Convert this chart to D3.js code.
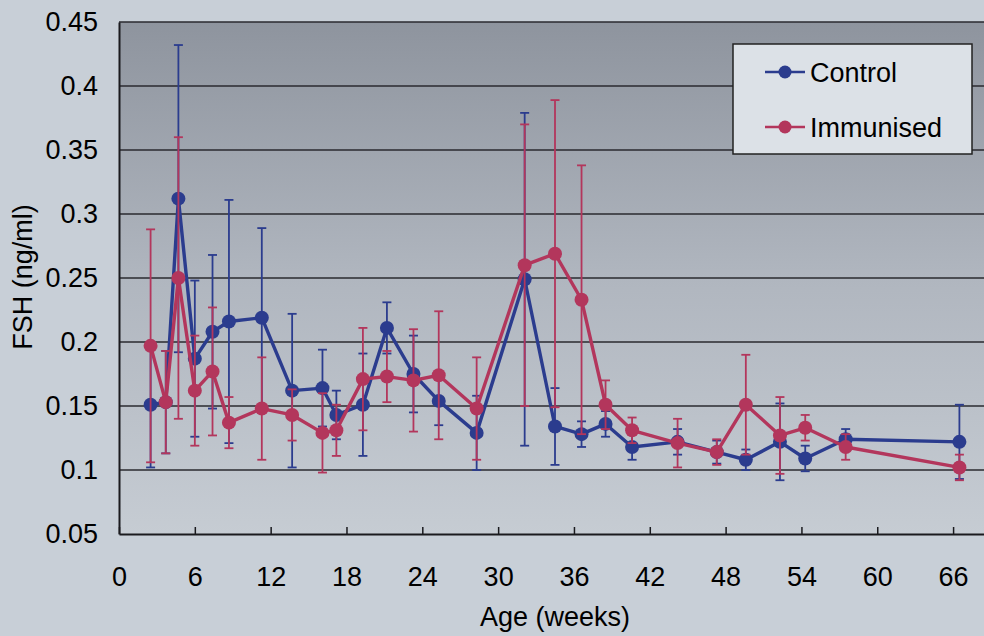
<!DOCTYPE html>
<html lang="en">
<head>
<meta charset="utf-8">
<title>FSH by age</title>
<script src="https://cdn.jsdelivr.net/npm/d3@7"></script>
<style>
  body { margin: 0; background: #c8cfd7; }
  text { font-family: "Liberation Sans", Arial, sans-serif; fill: #000; }
</style>
</head>
<body>
<svg id="chart" width="984" height="636"></svg>
<script>
// ages (weeks) where samples were taken
var ages = [2.5, 3.7, 4.7, 6.0, 7.4, 8.7, 11.3, 13.7, 16.1, 17.2, 19.3, 21.2, 23.3, 25.3,
            28.3, 32.1, 34.5, 36.6, 38.5, 40.6, 44.2, 47.3, 49.6, 52.3, 54.3, 57.5, 66.5];

var control = [0.151, 0.153, 0.312, 0.187, 0.208, 0.216, 0.219, 0.162, 0.164, 0.143, 0.151, 0.211, 0.175, 0.154,
               0.129, 0.249, 0.134, 0.128, 0.136, 0.118, 0.122, 0.114, 0.108, 0.122, 0.109, 0.124, 0.122];
var controlErr = [0.049, 0.04, 0.12, 0.061, 0.06, 0.095, 0.07, 0.06, 0.03, 0.019, 0.04, 0.02, 0.03, 0.019,
                  0.029, 0.13, 0.03, 0.01, 0.01, 0.01, 0.01, 0.009, 0.008, 0.03, 0.01, 0.008, 0.029];

var immunised = [0.197, 0.153, 0.25, 0.162, 0.177, 0.137, 0.148, 0.143, 0.129, 0.131, 0.171, 0.173, 0.170, 0.174,
                 0.148, 0.260, 0.269, 0.233, 0.151, 0.131, 0.121, 0.114, 0.151, 0.127, 0.133, 0.118, 0.102];
var immunisedErr = [0.091, 0.04, 0.11, 0.043, 0.05, 0.02, 0.04, 0.02, 0.031, 0.02, 0.04, 0.02, 0.04, 0.05,
                    0.04, 0.11, 0.12, 0.105, 0.019, 0.01, 0.019, 0.01, 0.039, 0.03, 0.01, 0.01, 0.01];

var yTicks = [0.05, 0.1, 0.15, 0.2, 0.25, 0.3, 0.35, 0.4, 0.45];
var xTicks = [0, 6, 12, 18, 24, 30, 36, 42, 48, 54, 60, 66];

var svg = d3.select("#chart");
var plotLeft = 119, plotTop = 22, plotRight = 991, plotBottom = 534;

var x = d3.scaleLinear().domain([0, 69]).range([plotLeft, plotRight]);
var y = d3.scaleLinear().domain([0.05, 0.45]).range([plotBottom, plotTop]);

// background gradient of the plot area
var defs = svg.append("defs");
var grad = defs.append("linearGradient").attr("id", "plotbg")
    .attr("x1", 0).attr("y1", 0).attr("x2", 0).attr("y2", 1);
grad.append("stop").attr("offset", "0%").attr("stop-color", "#8e949e");
grad.append("stop").attr("offset", "50%").attr("stop-color", "#b0b6bf");
grad.append("stop").attr("offset", "100%").attr("stop-color", "#c6ccd3");

defs.append("clipPath").attr("id", "clip")
  .append("rect").attr("x", plotLeft).attr("y", 0)
  .attr("width", plotRight - plotLeft).attr("height", plotBottom);

svg.append("rect").attr("width", 984).attr("height", 636).attr("fill", "#c8cfd7");
svg.append("rect")
   .attr("x", plotLeft).attr("y", plotTop)
   .attr("width", plotRight - plotLeft).attr("height", plotBottom - plotTop)
   .attr("fill", "url(#plotbg)");

// horizontal gridlines
svg.append("g")
   .selectAll("line")
   .data(yTicks.slice(1))
   .enter().append("line")
   .attr("x1", plotLeft).attr("x2", plotRight)
   .attr("y1", function(d) { return y(d); })
   .attr("y2", function(d) { return y(d); })
   .attr("stroke", "#2a2a2f")
   .attr("stroke-width", 1.4);

// axes
var yAxis = svg.append("g")
   .attr("transform", "translate(" + plotLeft + ",0)")
   .call(d3.axisLeft(y).tickValues(yTicks).tickSize(0).tickPadding(21)
         .tickFormat(function(d) { return String(+d.toFixed(2)); }));
yAxis.select(".domain").attr("stroke", "#1a1a1e").attr("stroke-width", 2);
yAxis.selectAll("text").attr("font-size", "27px").attr("font-family", "Liberation Sans, Arial, sans-serif")
     .attr("fill", "#000");

var xAxis = svg.append("g")
   .attr("transform", "translate(0," + plotBottom + ")")
   .call(d3.axisBottom(x).tickValues(xTicks).tickSizeInner(-7).tickSizeOuter(0));
xAxis.select(".domain").attr("stroke", "#1a1a1e").attr("stroke-width", 2);
xAxis.selectAll(".tick line").attr("stroke", "#1a1a1e").attr("stroke-width", 1.5);
xAxis.selectAll("text").attr("font-size", "27px").attr("font-family", "Liberation Sans, Arial, sans-serif")
     .attr("fill", "#000").attr("y", 33);

svg.append("text")
   .attr("x", 555).attr("y", 626)
   .attr("text-anchor", "middle")
   .attr("font-size", "27px")
   .text("Age (weeks)");

svg.append("text")
   .attr("transform", "translate(32,277) rotate(-90)")
   .attr("text-anchor", "middle")
   .attr("font-size", "27px")
   .text("FSH (ng/ml)");

// series
var series = [
  { name: "Control", values: control, err: controlErr, color: "#2b3c8e" },
  { name: "Immunised", values: immunised, err: immunisedErr, color: "#b3365c" }
];

var plot = svg.append("g").attr("clip-path", "url(#clip)");
var line = d3.line()
    .x(function(d) { return x(d.age); })
    .y(function(d) { return y(d.v); });

series.forEach(function(s) {
  var pts = ages.map(function(a, i) { return { age: a, v: s.values[i], e: s.err[i] }; });
  var g = plot.append("g");

  var bars = g.selectAll(".err").data(pts).enter().append("g").attr("class", "err")
      .attr("stroke", s.color).attr("stroke-width", 1.8);
  bars.append("line")
      .attr("x1", function(d) { return x(d.age); }).attr("x2", function(d) { return x(d.age); })
      .attr("y1", function(d) { return y(d.v + d.e); }).attr("y2", function(d) { return y(d.v - d.e); });
  bars.append("line")
      .attr("x1", function(d) { return x(d.age) - 4.5; }).attr("x2", function(d) { return x(d.age) + 4.5; })
      .attr("y1", function(d) { return y(d.v + d.e); }).attr("y2", function(d) { return y(d.v + d.e); });
  bars.append("line")
      .attr("x1", function(d) { return x(d.age) - 4.5; }).attr("x2", function(d) { return x(d.age) + 4.5; })
      .attr("y1", function(d) { return y(d.v - d.e); }).attr("y2", function(d) { return y(d.v - d.e); });

  g.append("path").datum(pts)
   .attr("fill", "none").attr("stroke", s.color).attr("stroke-width", 3.4)
   .attr("stroke-linejoin", "round")
   .attr("d", line);

  g.selectAll("circle").data(pts).enter().append("circle")
   .attr("cx", function(d) { return x(d.age); })
   .attr("cy", function(d) { return y(d.v); })
   .attr("r", 7)
   .attr("fill", s.color);
});

// legend
var legend = svg.append("g");
legend.append("rect")
   .attr("x", 733).attr("y", 44).attr("width", 239).attr("height", 110)
   .attr("fill", "#dce1e7").attr("stroke", "#222").attr("stroke-width", 1.5);

series.forEach(function(s, i) {
  var ly = 72 + i * 55;
  legend.append("line")
     .attr("x1", 765).attr("x2", 805).attr("y1", ly).attr("y2", ly)
     .attr("stroke", s.color).attr("stroke-width", 2.5);
  legend.append("circle").attr("cx", 785).attr("cy", ly).attr("r", 6.5).attr("fill", s.color);
  legend.append("text")
     .attr("x", 810).attr("y", ly + 10)
     .attr("font-size", "27px")
     .text(s.name);
});
</script>
</body>
</html>
